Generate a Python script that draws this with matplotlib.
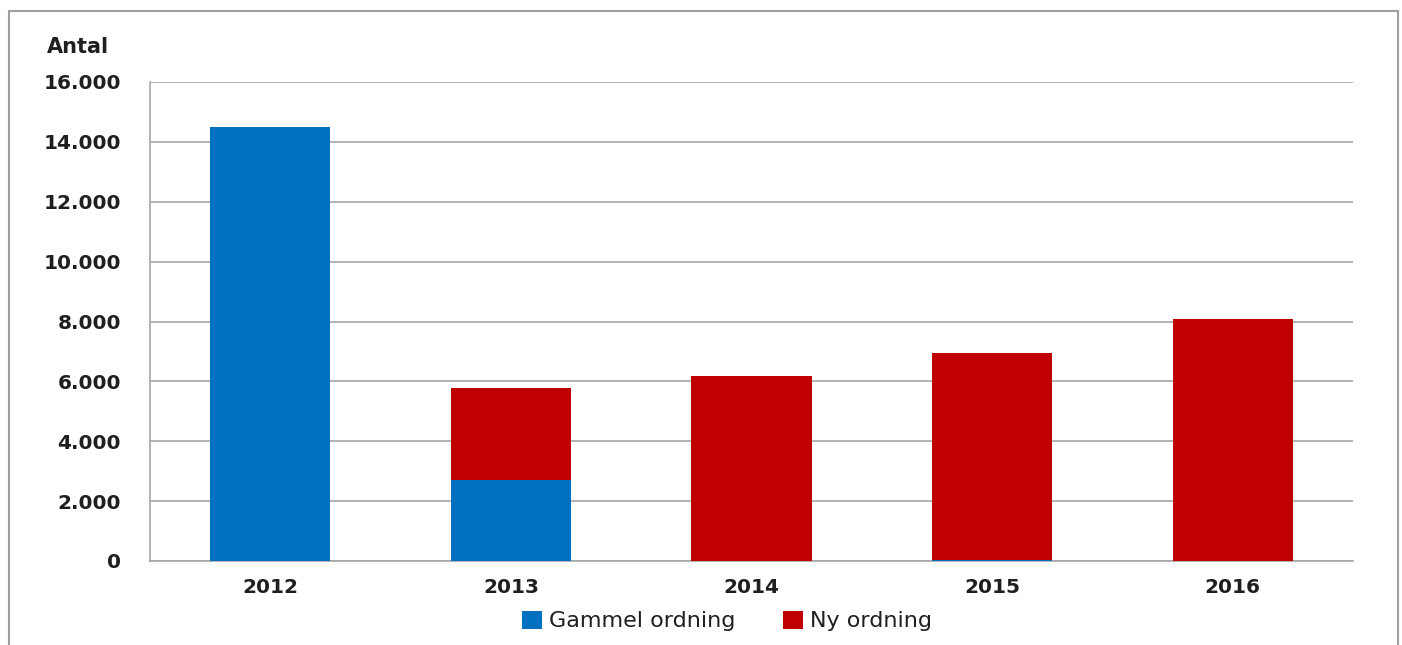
import matplotlib
matplotlib.use("Agg")
import matplotlib.pyplot as plt
from matplotlib.patches import Rectangle
from matplotlib.ticker import FuncFormatter

# Data
years = ["2012", "2013", "2014", "2015", "2016"]
gammel = [14500, 2700, 0, 20, 0]
ny = [0, 3080, 6180, 6930, 8080]
yticks = [0, 2000, 4000, 6000, 8000, 10000, 12000, 14000, 16000]

BLUE = "#0070C0"
RED = "#C00000"
GRID = "#A6A6A6"
TEXT = "#1F1F1F"

plt.rcParams["font.family"] = ["DejaVu Sans"]

fig = plt.figure(figsize=(14.02, 6.45), dpi=100)
ax = fig.add_axes([150 / 1402, 1 - 561 / 645, (1353 - 150) / 1402, (561 - 82) / 645])

x = range(len(years))
ax.bar(x, gammel, width=0.5, color=BLUE, label="Gammel ordning", zorder=3)
ax.bar(x, ny, width=0.5, bottom=gammel, color=RED, label="Ny ordning", zorder=3)

ax.set_xlim(-0.5, len(years) - 0.5)
ax.set_ylim(0, 16000)
ax.set_yticks(yticks)
ax.yaxis.set_major_formatter(FuncFormatter(lambda v, _: f"{int(v):,}".replace(",", ".")))
ax.set_xticks(list(x))
ax.set_xticklabels(years)
ax.tick_params(axis="both", length=0, labelsize=14.5, colors=TEXT)
ax.tick_params(axis="y", pad=21)
ax.tick_params(axis="x", pad=12)
for lbl in ax.get_xticklabels() + ax.get_yticklabels():
    lbl.set_fontweight("semibold")

ax.grid(axis="y", color=GRID, linewidth=1.2, zorder=0)
for side in ["top", "right"]:
    ax.spines[side].set_visible(False)
ax.spines["left"].set_color(GRID)
ax.spines["bottom"].set_color(GRID)
ax.spines["left"].set_linewidth(1.2)
ax.spines["bottom"].set_linewidth(1.2)

fig.text(47 / 1402, 1 - 47 / 645, "Antal", fontsize=15, fontweight="bold",
         color=TEXT, ha="left", va="center")

fig.legend(loc="center", bbox_to_anchor=(727 / 1402, 1 - 621 / 645), ncol=2,
           frameon=False, fontsize=16, handlelength=0.9, handleheight=0.9,
           columnspacing=2.1, handletextpad=0.35, labelcolor=TEXT)

# thin outer frame like the original chart area
fig.patches.append(Rectangle((9 / 1402, -0.05), (1398 - 9) / 1402, 1.05 - 11 / 645,
                             transform=fig.transFigure, fill=False,
                             edgecolor="#A0A0A0", linewidth=1.5))

fig.savefig("out.png", dpi=100)
